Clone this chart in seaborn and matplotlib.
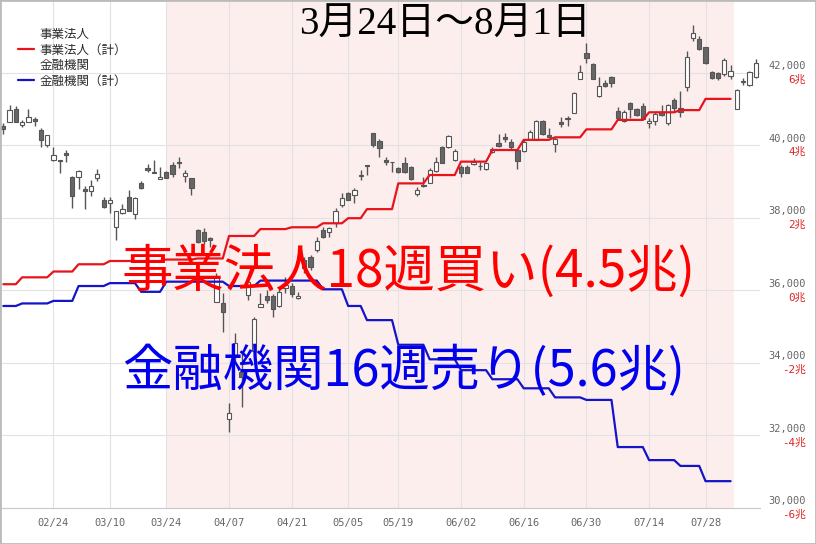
import numpy as np
import pandas as pd
import matplotlib
matplotlib.use("Agg")
import matplotlib.pyplot as plt
import seaborn as sns
from matplotlib.lines import Line2D
from matplotlib.patches import Rectangle

# ---------------- data ----------------
holidays = ['2025-02-24', '2025-03-20', '2025-04-29', '2025-05-05', '2025-05-06', '2025-07-21']
dates = pd.bdate_range('2025-02-12', '2025-08-07')
dates = dates[~dates.isin(pd.to_datetime(holidays))]

opens = [40530, 40630, 40990, 40550, 40630, 40720, 40420, 40000, 39590, 39600,
         39780, 39120, 39130, 38790, 38750, 39090, 38490, 38400, 37740, 38130,
         38570, 38110, 38950, 39380, 39260, 39060, 39270, 39460, 39550, 39150,
         39090, 37660, 37610, 37440, 35690, 35660, 32450, 34220, 33760, 35870,
         34330, 35550, 35850, 35850, 35570, 36060, 36120, 35780, 36840, 36910,
         37110, 37660, 37620, 37870, 38350, 38680, 38630, 39150, 39440, 40330,
         40130, 39590, 39550, 39370, 39500, 39390, 38660, 38910, 38970, 39300,
         39950, 39950, 39590, 39410, 39410, 39480, 39430, 39340, 39820, 40060,
         40240, 40090, 39870, 39840, 40170, 40150, 40670, 40280, 40040, 40650,
         40740, 40880, 41830, 42540, 42240, 41370, 41730, 41870, 40950, 40670,
         41160, 40990, 41090, 40610, 40670, 40910, 40610, 41250, 41020, 41620,
         42970, 42930, 42700, 42030, 41990, 41960, 41920, 40990, 41740, 41660,
         41890]
highs = [40610, 41110, 41090, 40700, 41000, 40790, 40470, 40280, 39950, 39600,
         39870, 39150, 39320, 38880, 39040, 39350, 38570, 38570, 38200, 38380,
         38770, 38580, 39020, 39480, 39590, 39410, 39290, 39550, 39670, 39320,
         39090, 37690, 37710, 37460, 36490, 35920, 32890, 34820, 34270, 36370,
         35270, 35920, 36010, 35900, 36060, 36380, 36200, 35960, 36930, 36980,
         37480, 37760, 37760, 38260, 38680, 38720, 38810, 39320, 39460, 40330,
         40170, 39690, 39550, 39390, 39690, 39430, 38860, 39130, 39370, 39690,
         39980, 40280, 39890, 39460, 39460, 39640, 39550, 39510, 39950, 40310,
         40330, 40180, 39870, 40150, 40420, 40700, 40700, 40470, 40240, 40790,
         40810, 41480, 42210, 42810, 42280, 41870, 41800, 41910, 41060, 40970,
         41190, 41020, 41160, 40740, 40930, 41110, 41130, 41300, 41500, 42600,
         43320, 43020, 42720, 42050, 42010, 42400, 42210, 41550, 41850, 42050,
         42380]
lows = [40310, 40630, 40630, 40500, 40630, 40530, 39950, 39950, 39560, 39230,
        39550, 38280, 38800, 38250, 38600, 39020, 38260, 38140, 37390, 38110,
        38200, 37970, 38800, 39270, 39230, 39060, 39090, 39130, 39370, 39000,
        38630, 37300, 37280, 37200, 35690, 34860, 32100, 33990, 32790, 35740,
        34300, 35530, 35650, 35270, 35540, 35920, 35830, 35750, 36490, 36560,
        37070, 37440, 37480, 37760, 38310, 38490, 38420, 39040, 39180, 39960,
        39690, 39460, 39270, 39240, 39240, 39040, 38600, 38860, 38950, 39270,
        39500, 39920, 39580, 39130, 39230, 39460, 39320, 39320, 39780, 39960,
        40100, 39870, 39340, 39820, 40150, 40150, 40280, 40190, 39820, 40500,
        40530, 40880, 41820, 42280, 41820, 41340, 41620, 41620, 40730, 40650,
        40740, 40820, 40700, 40490, 40560, 40820, 40560, 40930, 40790, 41500,
        42880, 42630, 42230, 41830, 41800, 41920, 41830, 40990, 41660, 41640,
        41860]
closes = [40440, 40970, 40630, 40630, 40770, 40660, 40150, 40280, 39720, 39560,
          39720, 38600, 39290, 38750, 38870, 39210, 38290, 38500, 38200, 38250,
          38200, 38560, 38820, 39310, 39240, 39130, 39090, 39210, 39500, 39230,
          38810, 37340, 37350, 37390, 36400, 35410, 32630, 34540, 33620, 36230,
          35200, 35620, 35740, 35480, 35960, 36150, 35900, 35850, 36620, 36650,
          37370, 37480, 37710, 38190, 38540, 38490, 38770, 39180, 39430, 40010,
          39920, 39550, 39530, 39270, 39270, 39060, 38770, 38880, 39320, 39550,
          39500, 40260, 39840, 39230, 39230, 39530, 39420, 39500, 39890, 39980,
          40170, 39950, 39580, 40100, 40370, 40670, 40310, 40240, 40170, 40590,
          40730, 41450, 42030, 42400, 41830, 41630, 41630, 41730, 40740, 40910,
          41000, 40840, 40730, 40670, 40850, 40840, 41110, 41020, 40930, 42440,
          43090, 42660, 42260, 41860, 41850, 42350, 42050, 41520, 41770, 42010,
          42260]

# weekly cumulative net flows (trillion yen), per week starting Monday
week_starts = ['2025-02-10', '2025-02-17', '2025-02-24', '2025-03-03', '2025-03-10',
               '2025-03-17', '2025-03-24', '2025-03-31', '2025-04-07', '2025-04-14',
               '2025-04-21', '2025-04-28', '2025-05-05', '2025-05-12', '2025-05-19',
               '2025-05-26', '2025-06-02', '2025-06-09', '2025-06-16', '2025-06-23',
               '2025-06-30', '2025-07-07', '2025-07-14', '2025-07-21', '2025-07-28']
corp_cum = [0.17, 0.36, 0.52, 0.72, 0.81, 0.81, 0.85, 0.88, 1.50, 1.69,
            1.74, 1.85, 1.99, 2.24, 2.95, 3.18, 3.55, 3.87, 4.15, 4.22,
            4.44, 4.70, 4.91, 4.97, 5.28]
fin_cum = [-0.43, -0.36, -0.29, 0.12, 0.20, -0.04, 0.24, 0.24, 0.12, 0.27,
           0.27, 0.03, -0.43, -0.82, -1.50, -1.90, -2.20, -2.45, -2.70, -2.95,
           -3.02, -4.32, -4.68, -4.84, -5.26]

tick_labels = ['02/24', '03/10', '03/24', '04/07', '04/21', '05/05',
               '05/19', '06/02', '06/16', '06/30', '07/14', '07/28']
price_ticks = [30000, 32000, 34000, 36000, 38000, 40000, 42000]
price_labels = ['30,000', '32,000', '34,000', '36,000', '38,000', '40,000', '42,000']
trillion_labels = ['-6兆', '-4兆', '-2兆', '0兆', '2兆', '4兆', '6兆']

legend_labels = ['事業法人', '事業法人（計）', '金融機関', '金融機関（計）']
title_text = '3月24日～8月1日'
corp_text = '事業法人18週買い(4.5兆)'
fin_text = '金融機関16週売り(5.6兆)'
highlight_start, highlight_end = '2025-03-24', '2025-08-01'

# ---------------- frame ----------------
n = len(dates)
idx = np.arange(n)
df = pd.DataFrame({'date': dates, 'idx': idx, 'open': opens, 'high': highs,
                   'low': lows, 'close': closes})
wk = pd.DataFrame({'week': pd.to_datetime(week_starts), 'corp': corp_cum, 'fin': fin_cum})
df['week'] = df['date'] - pd.to_timedelta(df['date'].dt.weekday, unit='D')
df = df.merge(wk, on='week', how='left')

sns.set_style('white')
plt.rcParams['font.family'] = ['DejaVu Sans', 'Noto Sans CJK JP']

W, H = 816, 544
fig = plt.figure(figsize=(W / 100, H / 100), dpi=100)
fig.patch.set_facecolor('white')

ax_l, ax_r, ax_b, ax_t = 0, 760, 508, 0   # pixel box
ax = fig.add_axes([ax_l / W, 1 - ax_b / H, (ax_r - ax_l) / W, (ax_b - ax_t) / H])
ymin, ymax = 30000, 44006
ax.set_ylim(ymin, ymax)
ax.set_xlim(-0.53, 120.69)

# highlight span
hs = int(np.searchsorted(df['date'].values, np.datetime64(highlight_start)))
he = int(np.searchsorted(df['date'].values, np.datetime64(highlight_end)))
ax.axvspan(hs, he + 0.5, color='#fdeeee', lw=0, zorder=0)

# grid
tick_pos = [int(np.searchsorted(df['date'].values, np.datetime64('2025-' + t.replace('/', '-'))))
            for t in tick_labels]
ax.set_xticks(tick_pos)
ax.set_xticklabels(tick_labels, fontsize=7.5, color='#666666', family='DejaVu Sans Mono')
ax.set_yticks(price_ticks)
ax.set_yticklabels([])
ax.tick_params(axis='y', length=0)
ax.tick_params(axis='x', length=3.6, color='#cccccc', width=0.8, pad=3.5)
ax.grid(True, color='#e2e2e2', lw=0.8, zorder=1)
ax.set_axisbelow(True)
for s in ['left', 'right', 'top']:
    ax.spines[s].set_visible(False)
ax.spines['bottom'].set_color('#c8c8c8')
ax.spines['bottom'].set_linewidth(0.8)

# candles
o = np.array(opens, float); c = np.array(closes, float)
hi = np.array(highs, float); lo = np.array(lows, float)
up = c >= o
blo = np.minimum(o, c)
bh = np.maximum(np.abs(c - o), 18)
ax.vlines(idx, lo, hi, color='#555555', lw=1.0, zorder=3)
ax.bar(idx[up], bh[up], bottom=blo[up], width=0.68, color='white',
       edgecolor='#555555', linewidth=0.8, zorder=4)
ax.bar(idx[~up], bh[~up], bottom=blo[~up], width=0.68, color='#666666',
       edgecolor='#555555', linewidth=0.8, zorder=4)

# cumulative flow lines on trillion scale
ax2 = ax.twinx()
ax2.set_ylim((ymin - 36000) / 1000, (ymax - 36000) / 1000)
ax2.set_xlim(ax.get_xlim())
red, blue = '#e8141c', '#1414c8'
sns.lineplot(data=df, x='idx', y='corp', ax=ax2, color=red, lw=1.6, legend=False)
sns.lineplot(data=df, x='idx', y='fin', ax=ax2, color=blue, lw=1.6, legend=False)
ax2.set_axis_off()

# right-side labels
mono = ['DejaVu Sans Mono', 'Noto Sans CJK JP']
for p, pl, tl in zip(price_ticks, price_labels, trillion_labels):
    ax.annotate(pl, xy=(806 / W, p), xycoords=('figure fraction', 'data'),
                xytext=(0, 4.7), textcoords='offset points', ha='right', va='center',
                fontsize=7.5, color='#666666', family=mono, annotation_clip=False)
    ax.annotate(tl, xy=(806 / W, p), xycoords=('figure fraction', 'data'),
                xytext=(0, -4.9), textcoords='offset points', ha='right', va='center',
                fontsize=7.8, color='#dd2222', family=mono, annotation_clip=False)

# legend
handles = [Line2D([], [], color='none'), Line2D([], [], color=red, lw=1.6),
           Line2D([], [], color='none'), Line2D([], [], color=blue, lw=1.6)]
fig.legend(handles, legend_labels, loc='upper left', bbox_to_anchor=(18 / W, 1 - 28 / H),
           frameon=False, prop={'family': 'Noto Sans CJK JP', 'size': 9},
           labelcolor='#2a2a2a', handlelength=1.25, handletextpad=0.5,
           labelspacing=0.2, borderpad=0, borderaxespad=0)

# texts
fig.text(445 / W, 1 - 25 / H, title_text, ha='center', va='center', fontsize=28,
         color='black', family=['Liberation Serif', 'Noto Sans CJK JP'])
fig.text(122 / W, 1 - 272 / H, corp_text, ha='left', va='center', fontsize=37,
         color='#ff0000', family='Noto Sans CJK JP')
fig.text(122 / W, 1 - 372 / H, fin_text, ha='left', va='center', fontsize=36.3,
         color='#0000ee', family='Noto Sans CJK JP')

# figure border
fig.add_artist(Rectangle((0, 0), 1, 1, transform=fig.transFigure, fill=False,
                         edgecolor='#bbbbbb', lw=2, zorder=10))

fig.savefig('out.png', dpi=100)
